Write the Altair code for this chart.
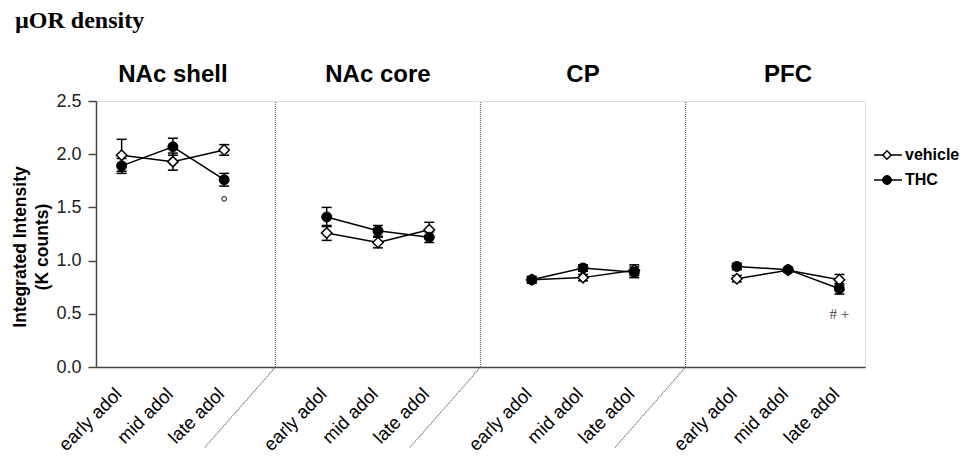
import altair as alt
import pandas as pd

# ---------------- data ----------------
regions = ["NAc shell", "NAc core", "CP", "PFC"]
stages = ["early adol", "mid adol", "late adol"]
series = ["vehicle", "THC"]

vehicle_mean = [1.99, 1.93, 2.04, 1.26, 1.17, 1.29, 0.82, 0.84, 0.91, 0.83, 0.91, 0.82]
vehicle_sem = [0.15, 0.08, 0.05, 0.07, 0.05, 0.07, 0.03, 0.03, 0.05, 0.03, 0.02, 0.05]
thc_mean = [1.89, 2.07, 1.76, 1.41, 1.28, 1.22, 0.82, 0.93, 0.89, 0.945, 0.915, 0.735]
thc_sem = [0.07, 0.08, 0.06, 0.09, 0.05, 0.05, 0.03, 0.03, 0.05, 0.03, 0.02, 0.05]

# significance marks
circle_mark_region = ["NAc shell"]
circle_mark_stage = ["late adol"]
circle_mark_value = [1.58]
text_mark_region = ["PFC"]
text_mark_stage = ["late adol"]
text_mark_value = [0.50]
text_mark_label = ["# +"]

y_tick_values = [0.0, 0.25, 0.5, 0.75, 1.0, 1.25, 1.5, 1.75, 2.0, 2.25, 2.5]

# ---------------- layout helpers ----------------
SLOTS = 4  # three stages + one gap per region


def pos(region, stage):
    return regions.index(region) * SLOTS + stages.index(stage) + 0.5


rows = []
for ri, r in enumerate(regions):
    for si, s in enumerate(stages):
        i = ri * 3 + si
        for name, m, e in (("vehicle", vehicle_mean, vehicle_sem), ("THC", thc_mean, thc_sem)):
            rows.append({"region": r, "stage": s, "series": name, "pos": pos(r, s),
                         "mean": m[i], "lo": m[i] - e[i], "hi": m[i] + e[i]})
df = pd.DataFrame(rows)

labels_df = pd.DataFrame([{"pos": pos(r, s), "stage": s} for r in regions for s in stages])
titles_df = pd.DataFrame([{"pos": pos(r, stages[1]), "region": r} for r in regions])
sep_df = pd.DataFrame([{"pos": (ri + 1) * SLOTS - 0.5, "zero": 0.0, "top": 2.5}
                       for ri in range(len(regions) - 1)])
circ_df = pd.DataFrame({"pos": [pos(r, s) for r, s in zip(circle_mark_region, circle_mark_stage)],
                        "val": circle_mark_value})
txt_df = pd.DataFrame({"pos": [pos(r, s) for r, s in zip(text_mark_region, text_mark_stage)],
                       "val": text_mark_value, "label": text_mark_label})

W, H = 769, 266
xscale = alt.Scale(domain=[0, len(regions) * SLOTS - 1], nice=False, zero=False)
yscale = alt.Scale(domain=[0, 2.5], nice=False)

X = alt.X("pos:Q", scale=xscale,
          axis=alt.Axis(labels=False, ticks=False, grid=False, title=None,
                        domainColor="#444444", domainWidth=1.5))
Y = alt.Y("mean:Q", scale=yscale,
          axis=alt.Axis(values=y_tick_values, grid=False, title=None,
                        labelExpr="(datum.value*4) % 2 == 0 ? format(datum.value, '.1f') : ''",
                        labelFont="Liberation Sans", labelFontSize=18, labelColor="#222222",
                        labelPadding=7, tickSize=8, tickColor="#444444", tickWidth=1.5,
                        domainColor="#444444", domainWidth=1.5))

base = alt.Chart(df)

lines = base.mark_line(color="black", strokeWidth=1.5).encode(
    x=X, y=Y, detail=["region:N", "series:N"], order="pos:Q")

err = base.mark_rule(color="black", strokeWidth=1.5).encode(
    x="pos:Q", y=alt.Y("lo:Q", scale=yscale), y2="hi:Q")
cap_hi = base.mark_rule(color="black", strokeWidth=1.5, xOffset=-5, x2Offset=5).encode(
    x="pos:Q", x2="pos:Q", y=alt.Y("hi:Q", scale=yscale))
cap_lo = base.mark_rule(color="black", strokeWidth=1.5, xOffset=-5, x2Offset=5).encode(
    x="pos:Q", x2="pos:Q", y=alt.Y("lo:Q", scale=yscale))

veh_pts = base.transform_filter(alt.datum.series == "vehicle").mark_point(
    shape="diamond", size=110, filled=True, fill="white", stroke="black", strokeWidth=1.5, opacity=1
).encode(x="pos:Q", y=alt.Y("mean:Q", scale=yscale))
thc_pts = base.transform_filter(alt.datum.series == "THC").mark_point(
    shape="circle", size=100, filled=True, fill="black", stroke="black", strokeWidth=1, opacity=1
).encode(x="pos:Q", y=alt.Y("mean:Q", scale=yscale))

# separators
sep_v = alt.Chart(sep_df).mark_rule(color="#666666", strokeWidth=1.2, strokeDash=[1, 1]).encode(
    x="pos:Q", y=alt.Y("zero:Q", scale=yscale), y2="top:Q")
sep_d = alt.Chart(sep_df).mark_rule(color="#666666", strokeWidth=1.2, strokeDash=[1, 1],
                                    x2Offset=-71, y2Offset=81).encode(
    x="pos:Q", x2="pos:Q", y=alt.Y("zero:Q", scale=yscale), y2="zero:Q")

# x category labels
xlab = alt.Chart(labels_df).mark_text(angle=315, align="right", baseline="middle",
                                      font="Liberation Sans", fontSize=18.5, color="black",
                                      xOffset=-3).encode(
    x="pos:Q", y=alt.value(H + 24), text="stage:N")

# panel titles
ptitle = alt.Chart(titles_df).mark_text(align="center", baseline="alphabetic",
                                        font="Liberation Sans", fontSize=24, fontWeight="bold",
                                        color="black").encode(
    x="pos:Q", y=alt.value(-19), text="region:N")

# annotations
circ = alt.Chart(circ_df).mark_point(shape="circle", size=22, filled=False, color="black",
                                     strokeWidth=1, opacity=1).encode(
    x="pos:Q", y=alt.Y("val:Q", scale=yscale))
txt = alt.Chart(txt_df).mark_text(font="Liberation Serif", fontSize=15, color="#444444",
                                  baseline="middle").encode(
    x="pos:Q", y=alt.Y("val:Q", scale=yscale), text="label:N")

# y title (two lines)
ytitle1 = alt.Chart(pd.DataFrame({"t": ["Integrated Intensity"]})).mark_text(
    angle=270, align="center", baseline="middle", font="Liberation Sans", fontSize=17.5,
    fontWeight="bold", color="black").encode(x=alt.value(-75), y=alt.value(146), text="t:N")
ytitle2 = alt.Chart(pd.DataFrame({"t": ["(K counts)"]})).mark_text(
    angle=270, align="center", baseline="middle", font="Liberation Sans", fontSize=17.5,
    fontWeight="bold", color="black").encode(x=alt.value(-53), y=alt.value(146), text="t:N")

# main title
mtitle = alt.Chart(pd.DataFrame({"t": ["µOR density"]})).mark_text(
    align="left", baseline="alphabetic", font="Liberation Serif", fontSize=24,
    fontWeight="bold", color="black").encode(x=alt.value(-81), y=alt.value(-73), text="t:N")

# manual legend
legend_layers = []
leg_y = {"vehicle": 54, "THC": 79}
for name in series:
    yy = leg_y[name]
    ld = alt.Chart(pd.DataFrame({"series": [name]}))
    legend_layers.append(ld.mark_rule(color="black", strokeWidth=1.5).encode(
        x=alt.value(778), x2=alt.value(806), y=alt.value(yy)))
    if name == "vehicle":
        legend_layers.append(ld.mark_point(shape="diamond", size=70, filled=True, fill="white",
                                           stroke="black", strokeWidth=1.5, opacity=1).encode(
            x=alt.value(791), y=alt.value(yy)))
    else:
        legend_layers.append(ld.mark_point(shape="circle", size=80, filled=True, fill="black",
                                           stroke="black", strokeWidth=1, opacity=1).encode(
            x=alt.value(791), y=alt.value(yy)))
    legend_layers.append(ld.mark_text(align="left", baseline="middle", font="Liberation Sans",
                                      fontSize=16, fontWeight="bold", color="black").encode(
        x=alt.value(809), y=alt.value(yy), text="series:N"))

chart = alt.layer(
    lines, sep_v, sep_d, err, cap_hi, cap_lo, veh_pts, thc_pts, circ, txt,
    xlab, ptitle, ytitle1, ytitle2, mtitle, *legend_layers
).properties(
    width=W, height=H,
    autosize=alt.AutoSizeParams(type="none"),
    padding={"left": 88, "top": 93, "right": 96, "bottom": 88},
).configure_view(stroke=None).configure(background="white")

chart.save("out.html", embed_options={"renderer": "svg", "actions": False})
